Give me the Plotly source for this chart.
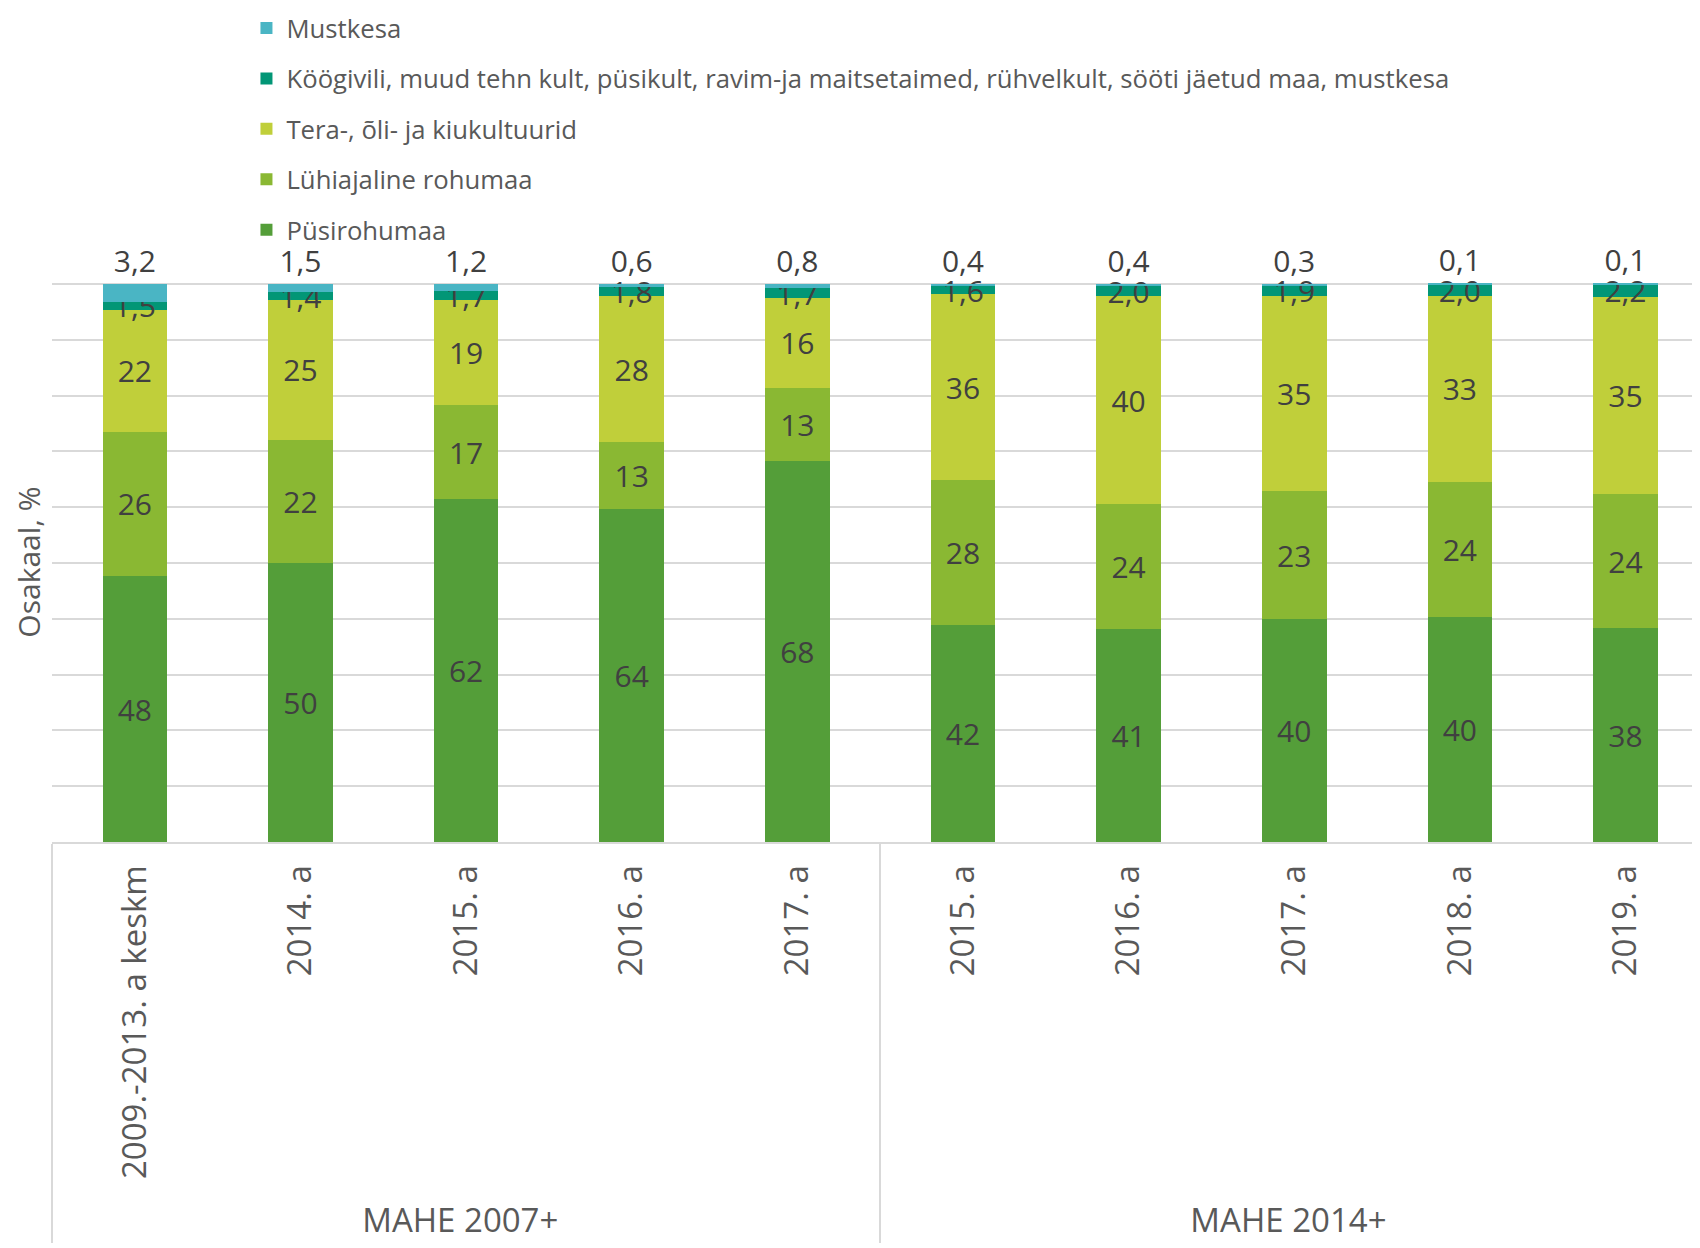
import plotly.graph_objects as go

groups = ["MAHE 2007+"] * 5 + ["MAHE 2014+"] * 5
categories = ["2009.-2013. a keskm", "2014. a", "2015. a", "2016. a", "2017. a",
              "2015. a", "2016. a", "2017. a", "2018. a", "2019. a"]

pusirohumaa = [48, 50, 62, 64, 68, 42, 41, 40, 40, 38]
luhiajaline = [26, 22, 17, 13, 13, 28, 24, 23, 24, 24]
tera = [22, 25, 19, 28, 16, 36, 40, 35, 33, 35]
koogivili = [1.5, 1.4, 1.7, 1.8, 1.7, 1.6, 2.0, 1.9, 2.0, 2.2]
mustkesa = [3.2, 1.5, 1.2, 0.6, 0.8, 0.4, 0.4, 0.3, 0.1, 0.1]

series = [
    ("Püsirohumaa", pusirohumaa, "#549E39", 0, "inside"),
    ("Lühiajaline rohumaa", luhiajaline, "#8AB833", 0, "inside"),
    ("Tera-, õli- ja kiukultuurid", tera, "#C0CF3A", 0, "inside"),
    ("Köögivili, muud tehn kult, püsikult, ravim-ja maitsetaimed, rühvelkult, sööti jäetud maa, mustkesa",
     koogivili, "#029676", 1, "inside"),
    ("Mustkesa", mustkesa, "#4AB5C4", 1, "outside"),
]

FONT = "Open Sans"
TXT = "#404040"
GREY = "#595959"


def fmt(v, d):
    return f"{v:.{d}f}".replace(".", ",")


fig = go.Figure()
n = len(series)
for i, (name, vals, color, dec, pos) in enumerate(series):
    fig.add_trace(go.Bar(
        x=[groups, categories],
        y=vals,
        name=name,
        legendgroup=f"g{i}",
        legendrank=n - i,
        marker=dict(color=color, line=dict(width=0)),
        text=[fmt(v, dec) for v in vals],
        textposition=pos,
        insidetextanchor="middle",
        textangle=0,
        constraintext="none",
        cliponaxis=False,
        textfont=dict(family=FONT, size=30, color=TXT),
        insidetextfont=dict(family=FONT, size=30, color=TXT),
        outsidetextfont=dict(family=FONT, size=30, color=TXT),
        hoverinfo="skip",
    ))

# The page body has an 8px default margin; the figure is sized to fit the window.
fig.update_layout(
    template="none",
    width=1692,
    height=1240,
    margin=dict(l=44, r=0, t=274, b=406, autoexpand=False),
    paper_bgcolor="white",
    plot_bgcolor="white",
    barmode="stack",
    barnorm="percent",
    bargap=0.61,
    font=dict(family=FONT, color=GREY),
    showlegend=True,
    legend=dict(
        orientation="v",
        traceorder="grouped",
        tracegroupgap=14,
        x=0.118, xanchor="left",
        y=1.495, yanchor="top",
        font=dict(family=FONT, size=25.7, color=GREY),
        bgcolor="rgba(0,0,0,0)",
        itemclick=False,
    ),
    xaxis=dict(
        type="multicategory",
        range=[-0.5, 9.45],
        tickangle=-90,
        tickfont=dict(family=FONT, size=33, color=GREY),
        ticklabelstandoff=8,
        showline=True,
        linecolor="#D9D9D9",
        linewidth=2,
        ticks="",
        showgrid=False,
        showdividers=True,
        dividercolor="#D9D9D9",
        dividerwidth=2,
        automargin=False,
    ),
    yaxis=dict(
        range=[0, 100.35],
        tick0=0,
        dtick=10,
        showgrid=True,
        gridcolor="#D9D9D9",
        gridwidth=2,
        zeroline=False,
        showline=False,
        showticklabels=False,
        ticks="",
        automargin=False,
        title=dict(text="Osakaal, %", font=dict(family=FONT, size=30, color=GREY), standoff=8),
    ),
)

fig.write_html("out.html")
